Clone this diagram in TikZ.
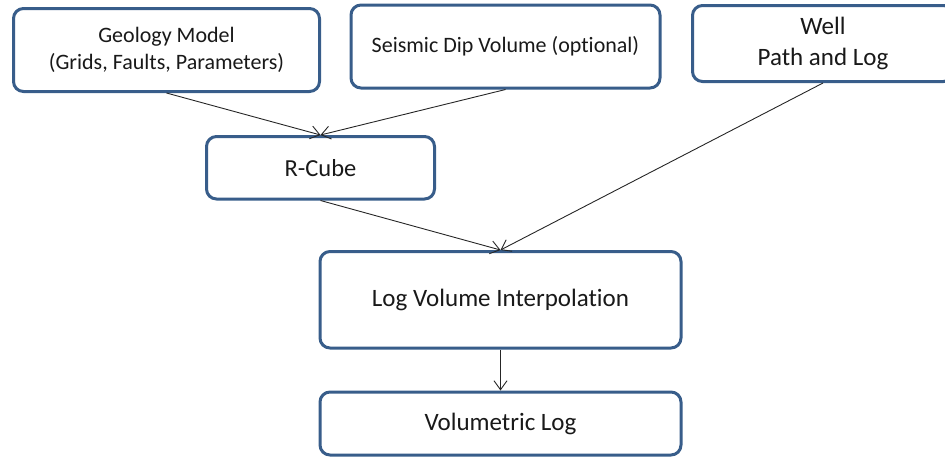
\documentclass[tikz,border=0pt]{standalone}
\usepackage{fontspec}
\setmainfont{Carlito}[Ligatures=NoCommon]
\usetikzlibrary{arrows.meta}
\definecolor{boxblue}{RGB}{56,93,138}
\begin{document}
\begin{tikzpicture}[x=1pt,y=-1pt,
  box/.style={draw=boxblue, line width=3pt, rounded corners=10pt, fill=white, align=center, inner sep=0pt, text=black!90},
  conn/.style={draw=black!85, line width=0.9pt, -{Straight Barb[length=9pt,width=13pt]}}]
\useasboundingbox (0,0) rectangle (945,459);
\node[box, minimum width=306pt, minimum height=83pt, font=\fontsize{22}{27}\selectfont] (geo) at (166.5,50) {Geology Model\\(Grids, Faults, Parameters)};
\node[box, minimum width=309pt, minimum height=83pt, font=\fontsize{22}{27}\selectfont] (seis) at (505.5,46.5) {Seismic Dip Volume (optional)};
\node[box, minimum width=261pt, minimum height=76pt, font=\fontsize{25}{31}\selectfont] (well) at (823,43.5) {\raisebox{-3pt}{Well}\\\raisebox{-3pt}{Path and Log}};
\node[box, minimum width=228pt, minimum height=62.5pt, font=\fontsize{24.5}{30}\selectfont] (rcube) at (320.5,167.75) {R-Cube};
\node[box, minimum width=361pt, minimum height=96.5pt, font=\fontsize{25}{30}\selectfont] (logvol) at (500.5,299.75) {Log Volume Interpolation};
\node[box, minimum width=361pt, minimum height=63pt, font=\fontsize{25}{30}\selectfont] (vollog) at (500.5,423.5) {Volumetric Log};
\draw[conn] (geo.south) -- (rcube.north);
\draw[conn] (seis.south) -- (rcube.north);
\draw[conn] (rcube.south) -- (logvol.north);
\draw[conn] (well.south) -- (logvol.north);
\draw[conn] (logvol.south) -- (vollog.north);
\end{tikzpicture}
\end{document}
